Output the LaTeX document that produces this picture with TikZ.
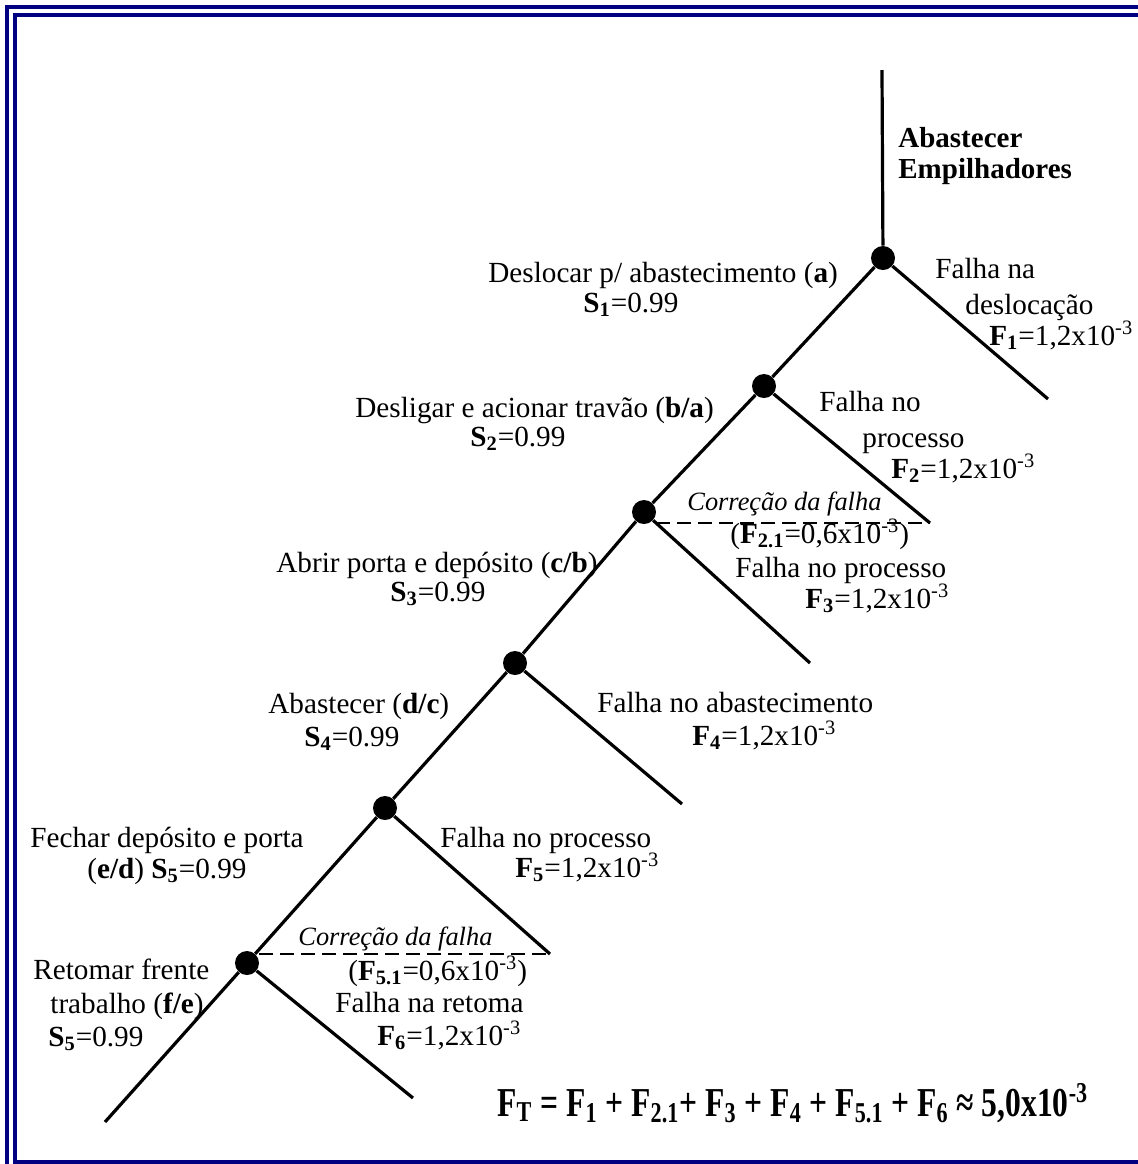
\documentclass[tikz,border=0pt]{standalone}
\usepackage{fontspec}
\setmainfont{Liberation Serif}
\usepackage{xcolor}
\usepackage{tikz}
\usetikzlibrary{calc}
\definecolor{framenavy}{HTML}{000080}
\newcommand{\Ssub}[1]{\textbf{S\textsubscript{#1}}}
\newcommand{\Fsub}[1]{\textbf{F\textsubscript{#1}}}
\newcommand{\expo}{x10\textsuperscript{-3}}
\tikzstyle{ramo} = [line width=1.6pt, black]
\tikzstyle{correcao} = [line width=1.1pt, dash pattern=on 7pt off 3.5pt]
\tikzstyle{ponto} = [circle, fill=black, inner sep=0pt, minimum size=12pt]
\tikzstyle{rotulo} = [anchor=base west, inner sep=0pt, font=\fontsize{14.6}{17}\selectfont]
\tikzstyle{nota} = [anchor=base west, inner sep=0pt, font=\fontsize{13.2}{16}\selectfont\itshape]
\tikzstyle{titulo} = [anchor=base west, inner sep=0pt, font=\fontsize{14.5}{17}\selectfont\bfseries]
\tikzstyle{formula} = [anchor=base west, inner sep=0pt, font=\fontsize{15.8}{19}\selectfont\bfseries]
\tikzstyle{moldura} = [draw=framenavy, line width=2.3pt]

\begin{document}
\begin{tikzpicture}[x=0.5pt, y=-0.5pt]
  \useasboundingbox (0,0) rectangle (1138,1164);
  \begin{scope}
    \clip (0,0) rectangle (1138,1164);
    \draw[moldura] (7,7) rectangle (1180,1180);
    \draw[moldura] (15,15) rectangle (1170,1162);
  \end{scope}

  \coordinate (inicio) at (882,70);
  \coordinate (fim) at (105,1122);
  \node (d1) [ponto] at (883,258) {};
  \node (d2) [ponto] at (764,386) {};
  \node (d3) [ponto] at (644,512) {};
  \node (d4) [ponto] at (515,663) {};
  \node (d5) [ponto] at (385,808) {};
  \node (d6) [ponto] at (247,963) {};
  \coordinate (e1) at (1048,399);
  \coordinate (e2) at (930,523);
  \coordinate (e3) at (810,663);
  \coordinate (e4) at (682,804);
  \coordinate (e5) at (550,954);
  \coordinate (e6) at (413,1098);

  \draw[ramo] (inicio) -- (d1);
  \draw[ramo] (d1) -- (d2);
  \draw[ramo] (d2) -- (d3);
  \draw[ramo] (d3) -- (d4);
  \draw[ramo] (d4) -- (d5);
  \draw[ramo] (d5) -- (d6);
  \draw[ramo] (d6) -- (fim);
  \draw[ramo] (d1) -- (e1);
  \draw[ramo] (d2) -- (e2);
  \draw[ramo] (d3) -- (e3);
  \draw[ramo] (d4) -- (e4);
  \draw[ramo] (d5) -- (e5);
  \draw[ramo] (d6) -- (e6);
  \draw[correcao] (d3.east |- e2) -- (e2);
  \draw[correcao] (d6.east |- e5) -- (e5);

  \node (tit1) [titulo] at (898,147) {Abastecer};
  \node (tit2) [titulo] at (898,178) {Empilhadores};

  \node (s1a) [rotulo] at (488,282) {Deslocar p/ abastecimento (\textbf{a})};
  \node (s1b) [rotulo] at (583,312) {\Ssub{1}=0.99};
  \node (f1a) [rotulo] at (935,278) {Falha na};
  \node (f1b) [rotulo] at (965,314) {deslocação};
  \node (f1c) [rotulo] at (989,345) {\Fsub{1}=1,2\expo};

  \node (s2a) [rotulo] at (355,417) {Desligar e acionar travão (\textbf{b/a})};
  \node (s2b) [rotulo] at (470,446) {\Ssub{2}=0.99};
  \node (f2a) [rotulo] at (819,411) {Falha no};
  \node (f2b) [rotulo] at (862,447) {processo};
  \node (f2c) [rotulo] at (891,478) {\Fsub{2}=1,2\expo};

  \node (c3a) [nota] at (687,510) {Correção da falha};
  \node (c3b) [rotulo] at (730,543) {(\Fsub{2.1}=0,6\expo)};
  \node (f3a) [rotulo] at (735,577) {Falha no processo};
  \node (f3b) [rotulo] at (805,608) {\Fsub{3}=1,2\expo};
  \node (s3a) [rotulo] at (276,572) {Abrir porta e depósito (\textbf{c/b})};
  \node (s3b) [rotulo] at (390,601) {\Ssub{3}=0.99};

  \node (s4a) [rotulo] at (268,713) {Abastecer (\textbf{d/c})};
  \node (s4b) [rotulo] at (304,746) {\Ssub{4}=0.99};
  \node (f4a) [rotulo] at (597,712) {Falha no abastecimento};
  \node (f4b) [rotulo] at (692,745) {\Fsub{4}=1,2\expo};

  \node (s5a) [rotulo] at (30,847) {Fechar depósito e porta};
  \node (s5b) [rotulo] at (87,878) {(\textbf{e/d}) \Ssub{5}=0.99};
  \node (f5a) [rotulo] at (440,847) {Falha no processo};
  \node (f5b) [rotulo] at (515,877) {\Fsub{5}=1,2\expo};

  \node (c6a) [nota] at (298,945) {Correção da falha};
  \node (c6b) [rotulo] at (348,980) {(\Fsub{5.1}=0,6\expo)};
  \node (f6a) [rotulo] at (335,1012) {Falha na retoma};
  \node (f6b) [rotulo] at (377,1045) {\Fsub{6}=1,2\expo};
  \node (s6a) [rotulo] at (33,979) {Retomar frente};
  \node (s6b) [rotulo] at (50,1013) {trabalho (\textbf{f/e})};
  \node (s6c) [rotulo] at (48,1046) {\Ssub{5}=0.99};

  \node (total) [formula] at (497,1116) {\scalebox{1}[1.3]{F\textsubscript{T} = F\textsubscript{1} + F\textsubscript{2.1}+ F\textsubscript{3} + F\textsubscript{4} + F\textsubscript{5.1} + F\textsubscript{6} ≈ 5,0x10\textsuperscript{-3}}};
\end{tikzpicture}
\end{document}
